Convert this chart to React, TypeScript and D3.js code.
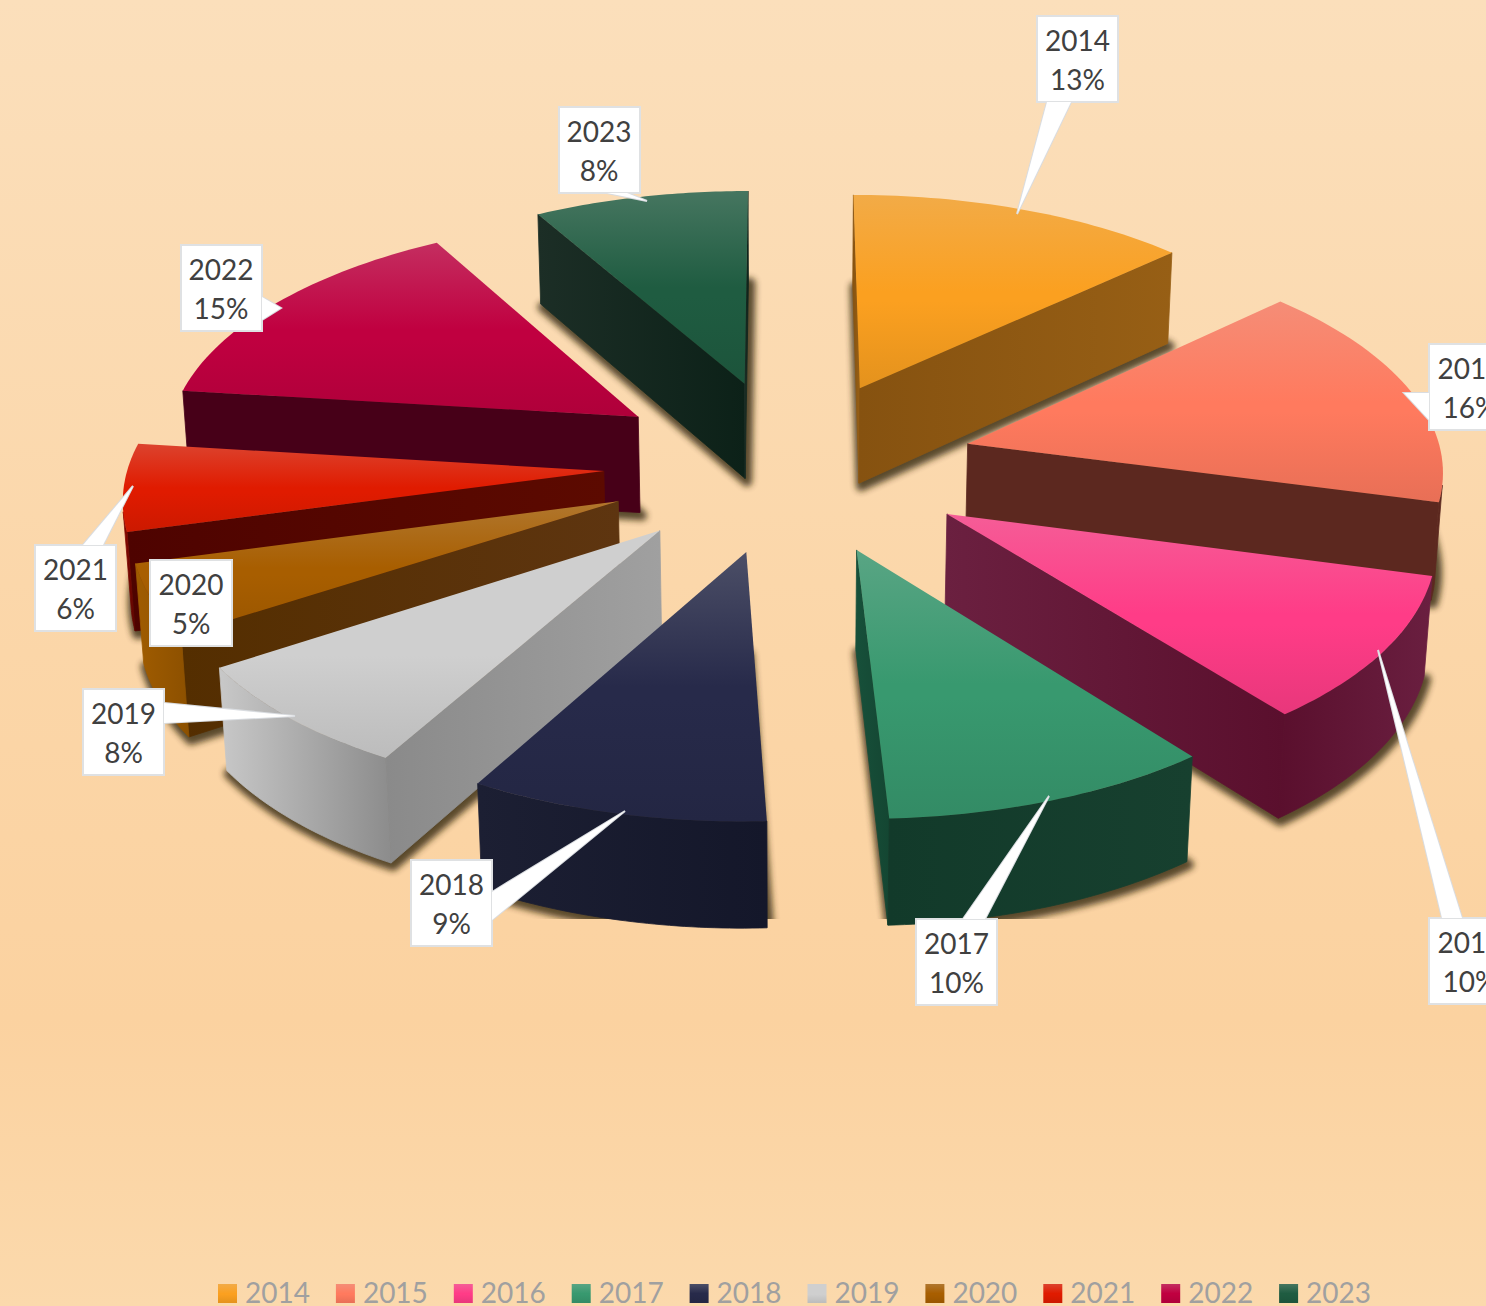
import React from "react";
import * as d3 from "d3";

const years = ["2014","2015","2016","2017","2018","2019","2020","2021","2022","2023"];
const shares = [13.06,16.10,10.26,9.86,8.89,7.68,4.96,6.15,14.83,8.21];
const explosion = [163,166,165.4,165.8,163.5,166,166.2,167,167,164.4];
const topColors = ["#FBA020","#FF7A5E","#FF3C87","#38996F","#272A4A","#CFCFCF","#A85E00","#E01B00","#C00040","#1F5C41"];
const radialLeft = ["#865210","#5C281F","#6B2040","#17503A","#1C1F33","#8A8A8A","#542E00","#4E0300","#470018","#1C2E26"];
const radialRight = ["#975F15","#5C281F","#5A0F2D","#144632","#14172A","#A0A0A0","#5E3510","#5C0A00","#470018","#0C2118"];
const outerLeft = ["#8A5610","#5C281F","#5A0F2D","#123A2A","#1C1F33","#C8C8C8","#A05C00","#8A0800","#470018","#0E251B"];
const outerRight = ["#8A5610","#5C281F","#6A1F40","#17402F","#14172A","#8C8C8C","#8C5000","#5C0500","#470018","#0E251B"];

// camera of the 3-D pie
const W = 1486, H = 1306;
const cam = { cx: 789.9, cy: 464.8, scale: 1.114, dist: 3928.3, tilt: 0.4945, radius: 426.86, depth: 100.3, rot: -0.0011 };

// callouts: box [x,y,w,h], pointer tip, pointer base (two points on the box edge)
const boxes = [[1037,16,81,86],[1429,344,90,86],[1429,918,90,86],[916,919,81,86],[411,860,81,86],[83,689,81,86],[150,560,82,86],[35,545,81,86],[181,245,81,86],[559,107,81,86]];
const labelCentre = [1077.5,1470,1470,956.5,451.5,123.5,191,75.5,221,599];
const tips = [[1017,214],[1404,393],[1378,650],[1049,796],[625,811],[295,716],null,[133,486],[281,308],[647,201]];
const bases = [[[1047,102],[1071,102]],[[1429,393],[1429,420]],[[1442,918],[1462,918]],[[963,919],[985,919]],[[492,892],[492,920]],[[164,703],[164,723]],null,[[83,545],[103,545]],[[262,297],[262,320]],[[607,193],[627,193]]];

const legendX = d3.range(years.length).map(i => 218 + i * 117.9);

const project = (X:number, Y:number, Z:number):[number,number] => {
  const c = Math.cos(cam.tilt), s = Math.sin(cam.tilt);
  const w = 1 + (Y*c - Z*s)/cam.dist;
  return [cam.cx + cam.scale*X/w, cam.cy - cam.scale*(Y*s + Z*c)/w];
};
const line = d3.line<[number,number]>().x(d=>d[0]).y(d=>d[1]);
const closed = (pts:[number,number][]) => line(pts)! + "Z";
const mix = (a:string,b:string,t:number) => d3.interpolateRgb(a,b)(t);

const arcs = d3.pie<number>().sort(null).value(d=>d).startAngle(cam.rot).endAngle(cam.rot+2*Math.PI)(shares);

type G = {id:string,x1:number,x2:number,a:string,b:string};

function buildSlice(i:number){
  const a = arcs[i];
  const mid = (a.startAngle+a.endAngle)/2, e = explosion[i], R = cam.radius;
  const ox = e*Math.sin(mid), oy = e*Math.cos(mid);
  const steps = d3.range(0,41).map(k => a.startAngle + (a.endAngle-a.startAngle)*k/40);
  const rim = (g:number,z:number) => project(ox+R*Math.sin(g), oy+R*Math.cos(g), z);
  const apex = (z:number) => project(ox,oy,z);
  const h = -cam.depth;
  const top:[number,number][] = [apex(0), ...steps.map(g=>rim(g,0))];
  const bottom:[number,number][] = [apex(h), ...steps.map(g=>rim(g,h))];
  const cY = -cam.dist*Math.cos(cam.tilt);
  const faces = (nx:number,ny:number,px:number,py:number) => nx*px+ny*(py-cY) < 0;
  const walls:{pts:[number,number][],id:string,gid:G}[] = [];
  const pushWall = (pts:[number,number][],id:string,A:string,B:string) => {
    const xs = pts.map(p=>p[0]);
    walls.push({pts,id,gid:{id,x1:d3.min(xs)!,x2:d3.max(xs)!,a:A,b:B}});
  };
  const vis = steps.filter(g => faces(Math.sin(g),Math.cos(g),ox+R*Math.sin(g),oy+R*Math.cos(g)));
  if(faces(-Math.cos(a.startAngle),Math.sin(a.startAngle),ox,oy))
    pushWall([apex(0),rim(a.startAngle,0),rim(a.startAngle,h),apex(h)],`ws${i}`,radialLeft[i],radialRight[i]);
  if(faces(Math.cos(a.endAngle),-Math.sin(a.endAngle),ox,oy))
    pushWall([apex(0),rim(a.endAngle,0),rim(a.endAngle,h),apex(h)],`we${i}`,radialLeft[i],radialRight[i]);
  if(vis.length>1)
    pushWall([...vis.map(g=>rim(g,0)),...vis.slice().reverse().map(g=>rim(g,h))],`wo${i}`,outerLeft[i],outerRight[i]);
  return {i,mid,top,walls,bottom};
}

const slices = d3.range(years.length).map(buildSlice).sort((p,q)=>Math.cos(q.mid)-Math.cos(p.mid));
const font = "Lato, Carlito, Calibri, sans-serif";

export default function App(){
  return (
    <div style={{position:"absolute",left:0,top:0,width:W,height:H,overflow:"hidden"}}>
      <svg width={W} height={H} style={{display:"block"}}>
        <defs>
          <linearGradient id="bg" x1="0" y1="0" x2="0" y2="1">
            <stop offset="0" stopColor="#FBDFBB"/>
            <stop offset="0.5" stopColor="#FBD6A8"/>
            <stop offset="0.78" stopColor="#FBD2A0"/>
            <stop offset="1" stopColor="#FBD9AC"/>
          </linearGradient>
          <filter id="blur" x="-15%" y="-15%" width="130%" height="130%"><feGaussianBlur stdDeviation="3"/></filter>
          <clipPath id="sclip"><rect x={0} y={0} width={W} height={919}/></clipPath>
          {topColors.map((c,i)=>(
            <linearGradient key={i} id={`t${i}`} x1="0" y1="0" x2="0" y2="1">
              <stop offset="0" stopColor={mix(c,"#d0d0d0",0.22)}/>
              <stop offset="0.5" stopColor={c}/>
              <stop offset="0.55" stopColor={c}/>
              <stop offset="1" stopColor={mix(c,"#000000",0.09)}/>
            </linearGradient>
          ))}
          {slices.flatMap(s=>s.walls.map(w=>(
            <linearGradient key={w.id} id={w.id} gradientUnits="userSpaceOnUse" x1={w.gid.x1} x2={w.gid.x2} y1={0} y2={0}>
              <stop offset="0" stopColor={w.gid.a}/>
              <stop offset="1" stopColor={w.gid.b}/>
            </linearGradient>
          )))}
        </defs>
        <rect width={W} height={H} fill="url(#bg)"/>
        {slices.map(s=>(
          <g key={s.i}>
            <g clipPath="url(#sclip)">
              <path d={closed(s.bottom)} transform="translate(2,3)" fill="#33260F" stroke="#33260F" strokeWidth={10} strokeLinejoin="round" opacity={0.8} filter="url(#blur)"/>
            </g>
            {s.walls.map(w=><path key={w.id} d={closed(w.pts)} fill={`url(#${w.id})`} stroke={`url(#${w.id})`} strokeWidth={0.8}/>)}
            <path d={closed(s.top)} fill={`url(#t${s.i})`}/>
          </g>
        ))}
        {years.map((y,i)=>{
          const [bx,by,bw,bh] = boxes[i];
          const wedge = tips[i] && bases[i] ? [bases[i]![0],tips[i]!,bases[i]![1]] as [number,number][] : null;
          return (
            <g key={y}>
              {wedge && <path d={closed(wedge)} fill="#fff" stroke="#D9DCE0" strokeWidth={2} strokeLinejoin="miter"/>}
              <rect x={bx} y={by} width={bw} height={bh} fill="#fff" stroke="#DFE1E3" strokeWidth={2}/>
              {wedge && <path d={closed(wedge)} fill="#fff"/>}
              <text x={labelCentre[i]} y={by+35} textAnchor="middle" fontFamily={font} fontSize={28} fill="#404040">{y}</text>
              <text x={labelCentre[i]} y={by+74} textAnchor="middle" fontFamily={font} fontSize={28} fill="#404040">{Math.round(shares[i])}%</text>
            </g>
          );
        })}
        {years.map((y,i)=>(
          <g key={y}>
            <rect x={legendX[i]} y={1284} width={19} height={19} fill={`url(#t${i})`}/>
            <text x={legendX[i]+27} y={1303} fontFamily={font} fontSize={28} fill="#A0A0A0">{y}</text>
          </g>
        ))}
      </svg>
    </div>
  );
}
